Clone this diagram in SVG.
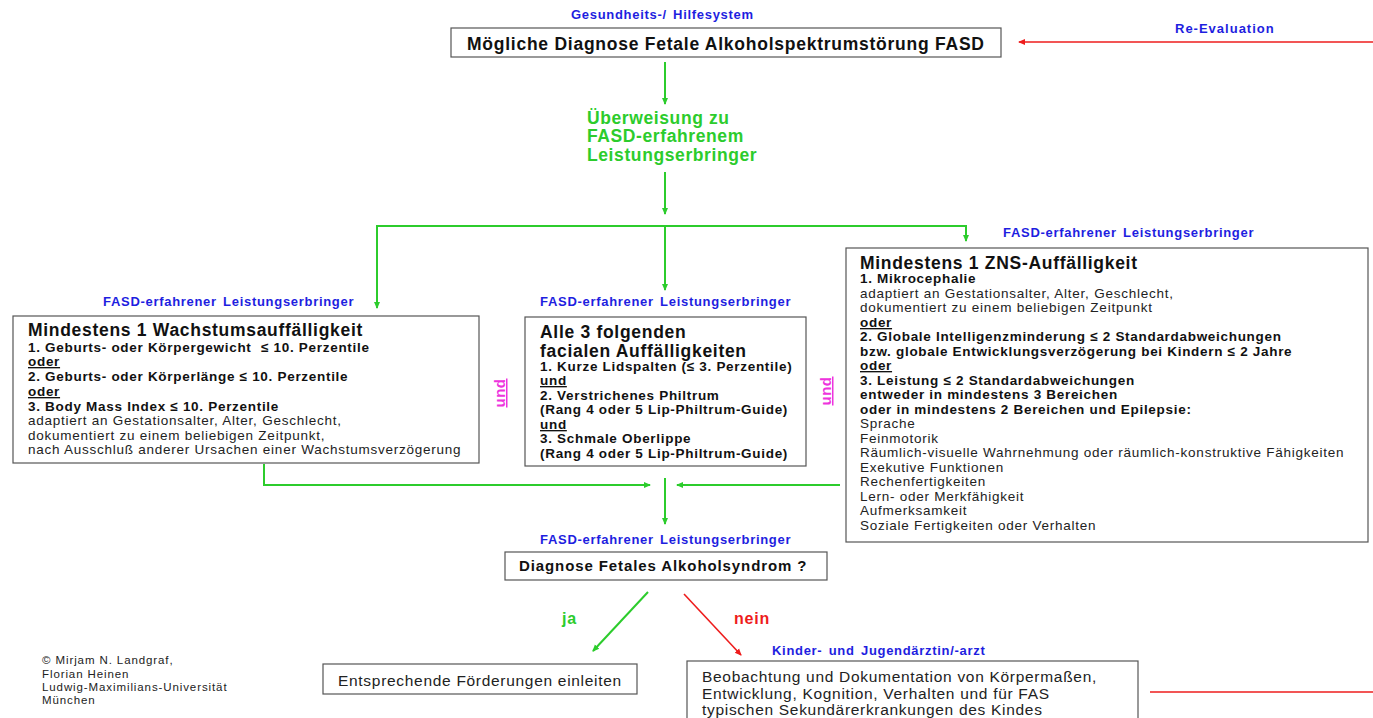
<svg xmlns="http://www.w3.org/2000/svg" width="1373" height="718" viewBox="0 0 1373 718">
<style>
text{font-family:"Liberation Sans",Arial,sans-serif;}
.box{fill:#fff;stroke:#555;stroke-width:1.2;}
.lbl{fill:#1e1ee0;font-weight:bold;font-size:13px;letter-spacing:0.7px;word-spacing:2px;}
.b{font-weight:bold;font-size:13.5px;fill:#111;letter-spacing:0.7px;}
.n{font-size:13.5px;fill:#222;letter-spacing:0.75px;}
.t{font-weight:bold;font-size:17.5px;fill:#111;letter-spacing:0.7px;}
.u{text-decoration:underline;}
.g{stroke:#2ccc2c;stroke-width:2;fill:none;}
.r{stroke:#ee1c1c;stroke-width:1.6;fill:none;}
.und{fill:#ee33dd;font-weight:bold;font-size:15px;text-decoration:underline;letter-spacing:0.5px;}
.m{font-size:15.5px;fill:#222;letter-spacing:0.7px;}
</style>
<defs>
<marker id="ag" markerWidth="8" markerHeight="8" refX="6" refY="4" orient="auto" markerUnits="userSpaceOnUse"><path d="M0,1 L7,4 L0,7 z" fill="#2ccc2c"/></marker>
<marker id="ar" markerWidth="8" markerHeight="8" refX="6" refY="4" orient="auto" markerUnits="userSpaceOnUse"><path d="M0,1 L7,4 L0,7 z" fill="#ee1c1c"/></marker>
</defs>
<rect width="1373" height="718" fill="#fff"/>

<g id="connectors">
<line class="r" x1="1373" y1="42" x2="1019" y2="42" marker-end="url(#ar)"/>
<line class="g" x1="665" y1="62" x2="665" y2="104" marker-end="url(#ag)"/>
<line class="g" x1="665" y1="172" x2="665" y2="214" marker-end="url(#ag)"/>
<polyline class="g" points="377,308 377,226 966,226 966,241" stroke-width="1.6" marker-end="url(#ag)"/>
<line class="g" x1="377" y1="300" x2="377" y2="308" stroke-width="1.6" marker-end="url(#ag)"/>
<line class="g" x1="665" y1="226" x2="665" y2="290" stroke-width="1.6" marker-end="url(#ag)"/>
<polyline class="g" points="264,464 264,485 650,485" stroke-width="1.6" marker-end="url(#ag)"/>
<line class="g" x1="840" y1="485" x2="677" y2="485" stroke-width="1.6" marker-end="url(#ag)"/>
<line class="g" x1="665" y1="478" x2="665" y2="524" marker-end="url(#ag)"/>
<line class="g" x1="648" y1="592" x2="593" y2="651" stroke-width="1.6" marker-end="url(#ag)"/>
<line class="r" x1="684" y1="594" x2="741" y2="655" marker-end="url(#ar)"/>
<line class="r" x1="1150" y1="692" x2="1373" y2="692"/>
<text x="562" y="624" font-weight="bold" font-size="16" letter-spacing="0.8" fill="#2ccc2c">ja</text>
<text x="734" y="624" font-weight="bold" font-size="16" letter-spacing="0.8" fill="#ee1c1c">nein</text>
<text x="1175" y="33" class="lbl" style="letter-spacing:1px">Re-Evaluation</text>
</g>

<g id="hilfesystem">
<text x="571" y="19" class="lbl">Gesundheits-/  Hilfesystem</text>
<rect class="box" x="451" y="28" width="550" height="29"/>
<text x="467" y="50" class="t" style="letter-spacing:0.75px">Mögliche Diagnose Fetale Alkoholspektrumstörung FASD</text>
</g>

<g id="ueberweisung" font-weight="bold" font-size="17.5" fill="#2ccc2c" letter-spacing="0.6">
<text x="587" y="124">Überweisung zu</text>
<text x="587" y="142">FASD-erfahrenem</text>
<text x="587" y="161">Leistungserbringer</text>
</g>

<g id="wachstum">
<text x="103" y="306" class="lbl">FASD-erfahrener  Leistungserbringer</text>
<rect class="box" x="13" y="316" width="466" height="147"/>
<text x="28" y="336" class="t">Mindestens 1 Wachstumsauffälligkeit</text>
<text x="28" y="352" class="b">1. Geburts- oder Körpergewicht <tspan dx="5">≤ 10. Perzentile</tspan></text>
<text x="28" y="366" class="b u">oder</text>
<text x="28" y="381" class="b">2. Geburts- oder Körperlänge ≤ 10. Perzentile</text>
<text x="28" y="396" class="b u">oder</text>
<text x="28" y="411" class="b">3. Body Mass Index ≤ 10. Perzentile</text>
<text x="28" y="425" class="n">adaptiert an Gestationsalter, Alter, Geschlecht,</text>
<text x="28" y="440" class="n">dokumentiert zu einem beliebigen Zeitpunkt,</text>
<text x="28" y="454" class="n">nach Ausschluß anderer Ursachen einer Wachstumsverzögerung</text>
</g>

<g id="und1"><text class="und" transform="translate(505,393) rotate(-90)" text-anchor="middle">und</text></g>
<g id="und2"><text class="und" transform="translate(831,391) rotate(-90)" text-anchor="middle">und</text></g>

<g id="facial">
<text x="540" y="306" class="lbl">FASD-erfahrener  Leistungserbringer</text>
<rect class="box" x="525" y="317" width="281" height="149"/>
<text x="540" y="338" class="t">Alle 3 folgenden</text>
<text x="540" y="357" class="t">facialen Auffälligkeiten</text>
<text x="540" y="371" class="b">1. Kurze Lidspalten (≤ 3. Perzentile)</text>
<text x="540" y="385" class="b u">und</text>
<text x="540" y="400" class="b">2. Verstrichenes Philtrum</text>
<text x="540" y="414" class="b">(Rang 4 oder 5 Lip-Philtrum-Guide)</text>
<text x="540" y="429" class="b u">und</text>
<text x="540" y="443" class="b">3. Schmale Oberlippe</text>
<text x="540" y="458" class="b">(Rang 4 oder 5 Lip-Philtrum-Guide)</text>
</g>

<g id="zns">
<text x="1003" y="237" class="lbl">FASD-erfahrener  Leistungserbringer</text>
<rect class="box" x="846" y="248" width="522" height="294"/>
<text x="860" y="269" class="t">Mindestens 1 ZNS-Auffälligkeit</text>
<text x="860" y="283" class="b">1. Mikrocephalie</text>
<text x="860" y="298" class="n">adaptiert an Gestationsalter, Alter, Geschlecht,</text>
<text x="860" y="312" class="n">dokumentiert zu einem beliebigen Zeitpunkt</text>
<text x="860" y="327" class="b u">oder</text>
<text x="860" y="341" class="b">2. Globale Intelligenzminderung ≤ 2 Standardabweichungen</text>
<text x="860" y="356" class="b">bzw. globale Entwicklungsverzögerung bei Kindern ≤ 2 Jahre</text>
<text x="860" y="370" class="b u">oder</text>
<text x="860" y="385" class="b">3. Leistung ≤ 2 Standardabweichungen</text>
<text x="860" y="399" class="b">entweder in mindestens 3 Bereichen</text>
<text x="860" y="414" class="b">oder in mindestens 2 Bereichen und Epilepsie:</text>
<text x="860" y="428" class="n">Sprache</text>
<text x="860" y="443" class="n">Feinmotorik</text>
<text x="860" y="457" class="n">Räumlich-visuelle Wahrnehmung oder räumlich-konstruktive Fähigkeiten</text>
<text x="860" y="472" class="n">Exekutive Funktionen</text>
<text x="860" y="486" class="n">Rechenfertigkeiten</text>
<text x="860" y="501" class="n">Lern- oder Merkfähigkeit</text>
<text x="860" y="515" class="n">Aufmerksamkeit</text>
<text x="860" y="530" class="n">Soziale Fertigkeiten oder Verhalten</text>
</g>

<g id="diagnose">
<text x="540" y="544" class="lbl">FASD-erfahrener  Leistungserbringer</text>
<rect class="box" x="505" y="552" width="322" height="28"/>
<text x="519" y="571" font-weight="bold" font-size="15" letter-spacing="0.9" fill="#111">Diagnose Fetales Alkoholsyndrom ?</text>
</g>

<g id="foerderung">
<rect class="box" x="323" y="664" width="314" height="30"/>
<text x="338" y="686" class="m">Entsprechende Förderungen einleiten</text>
</g>

<g id="beobachtung">
<text x="772" y="655" class="lbl">Kinder- und Jugendärztin/-arzt</text>
<rect class="box" x="687" y="661" width="451" height="70"/>
<text x="702" y="682" class="m">Beobachtung und Dokumentation von Körpermaßen,</text>
<text x="702" y="699" class="m">Entwicklung, Kognition, Verhalten und für FAS</text>
<text x="702" y="715" class="m">typischen Sekundärerkrankungen des Kindes</text>
</g>

<g id="copyright" font-size="11.5" fill="#222" letter-spacing="0.9">
<text x="42" y="664">© Mirjam N. Landgraf,</text>
<text x="42" y="678">Florian Heinen</text>
<text x="42" y="691">Ludwig-Maximilians-Universität</text>
<text x="42" y="704">München</text>
</g>
</svg>
